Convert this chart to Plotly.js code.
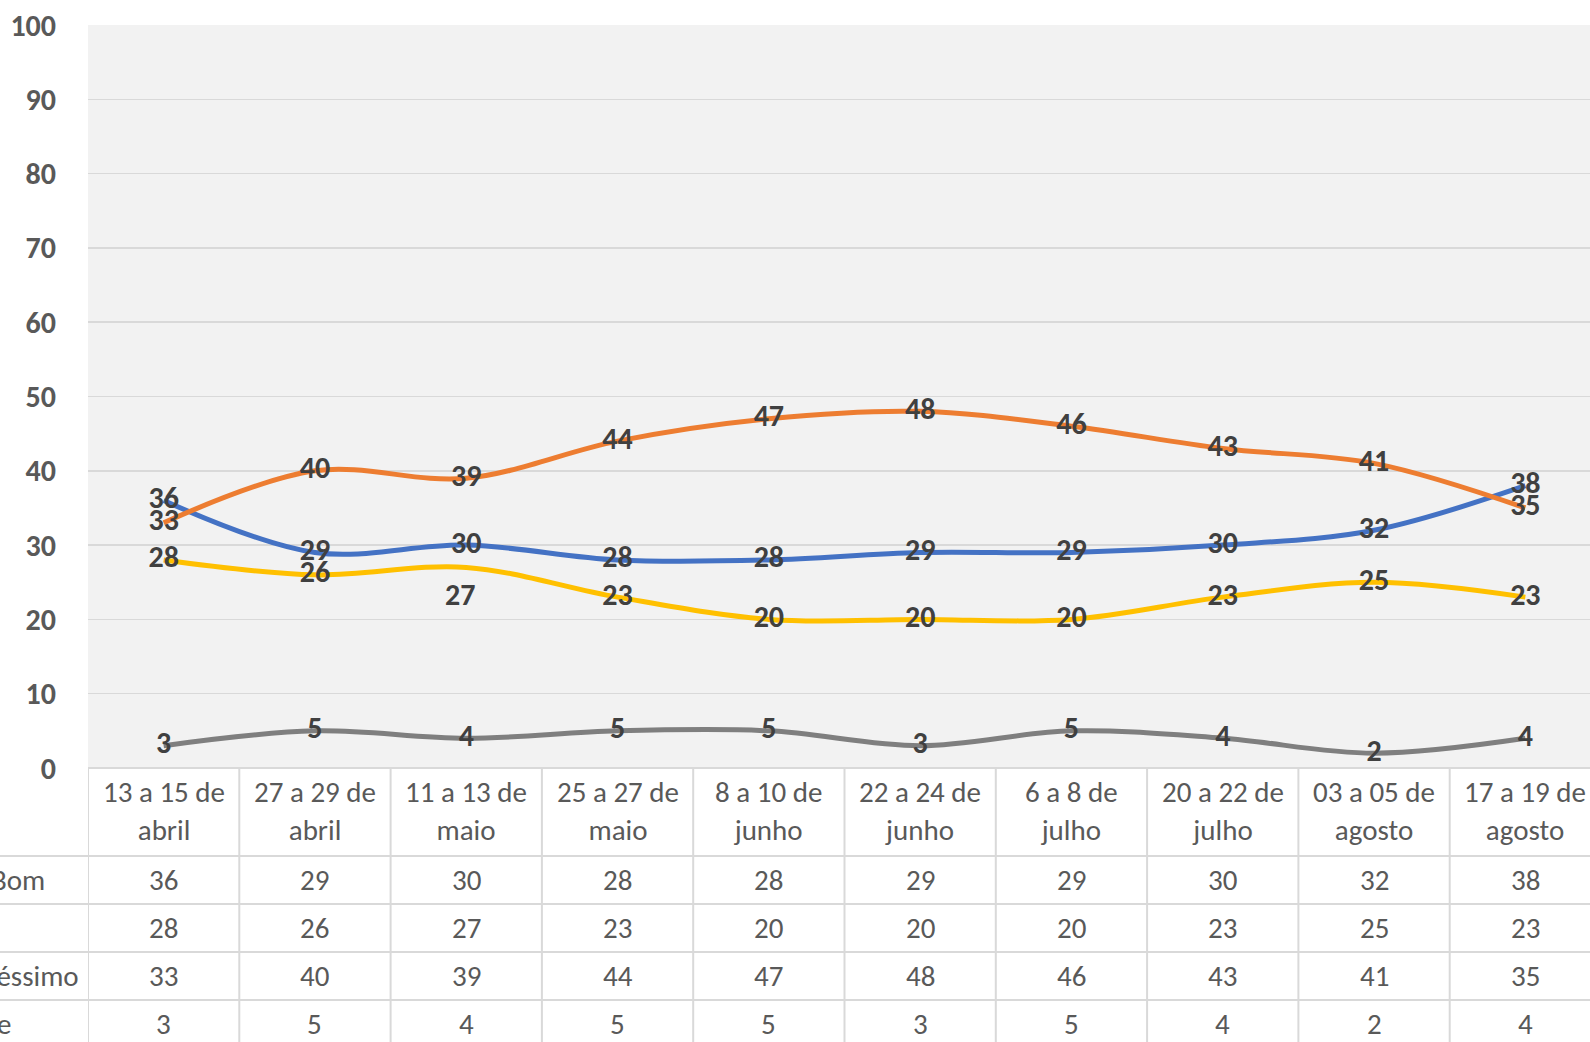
<!DOCTYPE html>
<html>
<head>
<meta charset="utf-8">
<script src="https://cdn.plot.ly/plotly-3.0.1.min.js"></script>
<style>
html,body{margin:0;padding:0;overflow:hidden;background:#fff;}
#chart{width:1610px;height:1050px;}
</style>
</head>
<body>
<div id="chart"></div>
<script>
// ---- data ----
var categories = ["13 a 15 de<br>abril","27 a 29 de<br>abril","11 a 13 de<br>maio","25 a 27 de<br>maio","8 a 10 de<br>junho","22 a 24 de<br>junho","6 a 8 de<br>julho","20 a 22 de<br>julho","03 a 05 de<br>agosto","17 a 19 de<br>agosto"];
var seriesNames = ["Ótimo/Bom","Regular","Ruim/Péssimo","Não sabe"];
var otimoBom   = [36,29,30,28,28,29,29,30,32,38];
var regular    = [28,26,27,23,20,20,20,23,25,23];
var ruimPessimo= [33,40,39,44,47,48,46,43,41,35];
var naoSabe    = [3,5,4,5,5,3,5,4,2,4];
var yTicks     = [0,10,20,30,40,50,60,70,80,90,100];

// ---- layout geometry (pixels) ----
var W = 1610, H = 1050, ML = 88, MR = 9, MT = 25, MB = 282;
var plotW = W - ML - MR, plotH = H - MT - MB;
function px2py(py){ return ((H - MB) - py) / plotH; }
function px2px(px){ return (px - ML) / plotW; }

var colors = ["#4472C4","#FFC000","#ED7D31","#7F7F7F"];
var allSeries = [otimoBom, regular, ruimPessimo, naoSabe];
var fontFam = "Carlito, Calibri, Lato, 'Open Sans', sans-serif";
var labelFont = {family: fontFam, size: 30, color: "#404040", weight: "bold"};
var tableFont = {family: fontFam, size: 29, color: "#595959"};

// label of Regular at index 2 is placed below its point (as in the source chart)
var offsetSeries = 1, offsetIndex = 2;

var traces = allSeries.map(function(vals, i){
  return {
    type: "scatter",
    mode: "lines+text",
    name: seriesNames[i],
    x: categories,
    y: vals,
    text: vals.map(function(v, j){ return (i === offsetSeries && j === offsetIndex) ? "" : String(v); }),
    textposition: "middle center",
    textfont: labelFont,
    line: {color: colors[i], width: 5, shape: "spline", smoothing: 1},
    cliponaxis: false,
    hoverinfo: "skip"
  };
});

var annotations = [];
var shapes = [];
var gridC = "#D9D9D9";

annotations.push({xref:"x", yref:"y", x:categories[offsetIndex], y:allSeries[offsetSeries][offsetIndex],
  text:String(allSeries[offsetSeries][offsetIndex]), showarrow:false, xanchor:"center", yanchor:"middle",
  xshift:-6, yshift:-27, font:labelFont});

// ---- data table below plot ----
var headerY = px2py(811);
var rowCenters = [880, 928, 976, 1024];
var rowLines = [856, 904, 952, 1000, 1048];
var labelEnds = [47, -6, 81, 13];

categories.forEach(function(c, j){
  annotations.push({xref:"x", yref:"paper", x:j, y:headerY, text:c, showarrow:false,
    xanchor:"center", yanchor:"middle", align:"center", font:tableFont});
  allSeries.forEach(function(vals, i){
    annotations.push({xref:"x", yref:"paper", x:j, y:px2py(rowCenters[i]), text:String(vals[j]),
      showarrow:false, xanchor:"center", yanchor:"middle", font:tableFont});
  });
});
seriesNames.forEach(function(n, i){
  annotations.push({xref:"paper", yref:"paper", x:px2px(labelEnds[i]), y:px2py(rowCenters[i]), text:n,
    showarrow:false, xanchor:"right", yanchor:"middle", font:tableFont});
});

for (var k = 0; k <= categories.length; k++) {
  shapes.push({type:"line", xref:"x", yref:"paper", x0:k-0.5, x1:k-0.5, y0:0, y1:px2py(H),
    line:{color:gridC, width:2}});
}
shapes.push({type:"line", xref:"paper", yref:"paper", x0:0, x1:1, y0:0, y1:0, line:{color:gridC, width:2}});
rowLines.forEach(function(py){
  shapes.push({type:"line", xref:"paper", yref:"paper", x0:px2px(-20), x1:1, y0:px2py(py), y1:px2py(py),
    line:{color:gridC, width:2}});
});

var layout = {
  width: W, height: H,
  margin: {l: ML, r: MR, t: MT, b: MB, pad: 0},
  paper_bgcolor: "#FFFFFF",
  plot_bgcolor: "#F2F2F2",
  showlegend: false,
  xaxis: {type:"category", range:[-0.5, categories.length-0.5], showticklabels:false,
    showgrid:false, zeroline:false, showline:false, ticks:"", fixedrange:true},
  yaxis: {range:[0,100], tickvals:yTicks, ticktext:yTicks.map(String), showgrid:true,
    gridcolor:gridC, gridwidth:1.5, zeroline:false, showline:false, ticks:"",
    ticklabelstandoff: 31,
    tickfont:{family:fontFam, size:30, color:"#595959", weight:"bold"}, fixedrange:true},
  annotations: annotations,
  shapes: shapes
};

Plotly.newPlot("chart", traces, layout, {displayModeBar:false, staticPlot:true});
</script>
</body>
</html>
